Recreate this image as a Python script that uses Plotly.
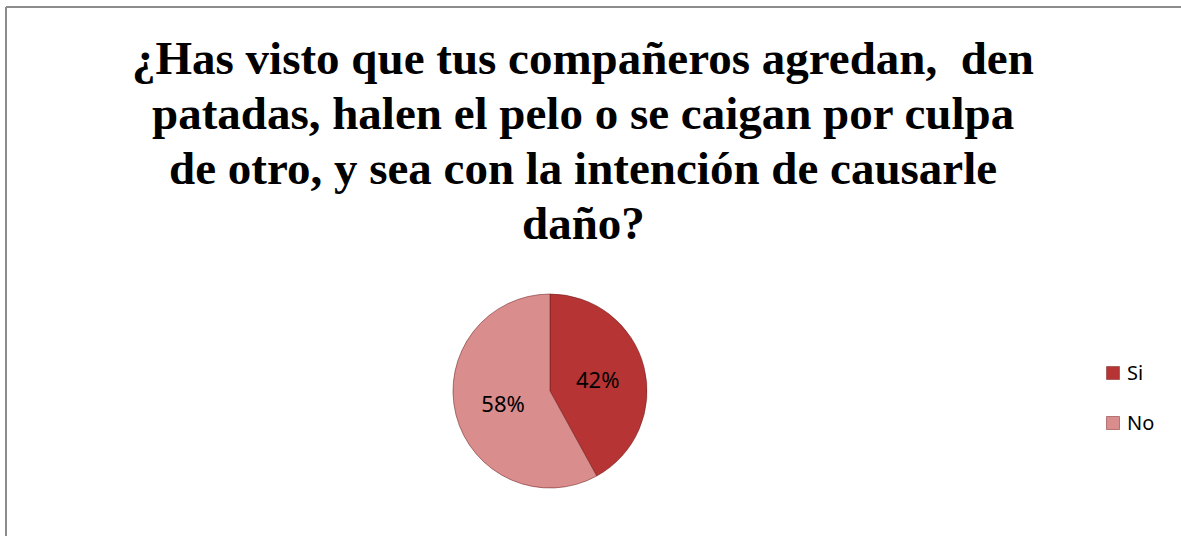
import plotly.graph_objects as go

W, H = 1181, 536

labels = ["Si", "No"]
values = [42, 58]
colors = ["#B73434", "#DA8D8D"]
title_lines = [
    "¿Has visto que tus compañeros agredan,  den",
    "patadas, halen el pelo o se caigan por culpa",
    "de otro, y sea con la intención de causarle",
    "daño?",
]

# pie center / radius in pixels
cx, cy, r = 550, 391, 97

fig = go.Figure(go.Pie(
    labels=labels,
    values=values,
    sort=False,
    direction="clockwise",
    rotation=0,
    marker=dict(colors=colors, line=dict(color="rgba(110,30,30,0.55)", width=1)),
    texttemplate="%{percent:.0%}",
    textposition="inside",
    insidetextorientation="horizontal",
    textfont=dict(family="Noto Sans, Liberation Sans, sans-serif", size=22, color="black"),
    hoverinfo="label+percent",
    showlegend=False,
    domain=dict(x=[(cx - r) / W, (cx + r) / W], y=[(H - cy - r) / H, (H - cy + r) / H]),
))

# outer frame: only the top and left edges are inside the picture
frame = dict(color="#8c8c8c", width=2)
fig.add_shape(type="line", xref="paper", yref="paper",
              x0=6 / W, x1=1, y0=1 - 7 / H, y1=1 - 7 / H, line=frame)
fig.add_shape(type="line", xref="paper", yref="paper",
              x0=6 / W, x1=6 / W, y0=0, y1=1 - 7 / H, line=frame)

# title, one annotation per line to get the tighter line spacing
for i, line in enumerate(title_lines):
    fig.add_annotation(x=583 / W, y=1 - (58 + 55 * i) / H, xref="paper", yref="paper",
                       text="<b>" + line + "</b>", showarrow=False,
                       xanchor="center", yanchor="middle",
                       font=dict(family="Liberation Serif, Times New Roman, serif", size=47, color="black"))

# legend drawn by hand so the item spacing matches
leg_x, leg_y0, leg_dy = 1113, 373, 50
for i, (lab, col) in enumerate(zip(labels, colors)):
    yy = leg_y0 + i * leg_dy
    fig.add_shape(type="rect", xref="paper", yref="paper",
                  x0=(leg_x - 6.5) / W, x1=(leg_x + 6.5) / W,
                  y0=1 - (yy + 6.5) / H, y1=1 - (yy - 6.5) / H,
                  fillcolor=col, line=dict(color="#7a2222", width=0.5))
    fig.add_annotation(x=(leg_x + 12) / W, y=1 - (yy - 1) / H, xref="paper", yref="paper",
                       text=lab, showarrow=False, xanchor="left", yanchor="middle",
                       font=dict(family="Noto Sans, Liberation Sans, sans-serif", size=20, color="black"))

fig.update_layout(
    width=W, height=H,
    margin=dict(l=0, r=0, t=0, b=0),
    paper_bgcolor="white",
    plot_bgcolor="white",
)

fig.write_html("out.html", config={"displayModeBar": False},
               post_script="document.body.style.margin='0';"
                           "document.documentElement.style.overflow='hidden';")
